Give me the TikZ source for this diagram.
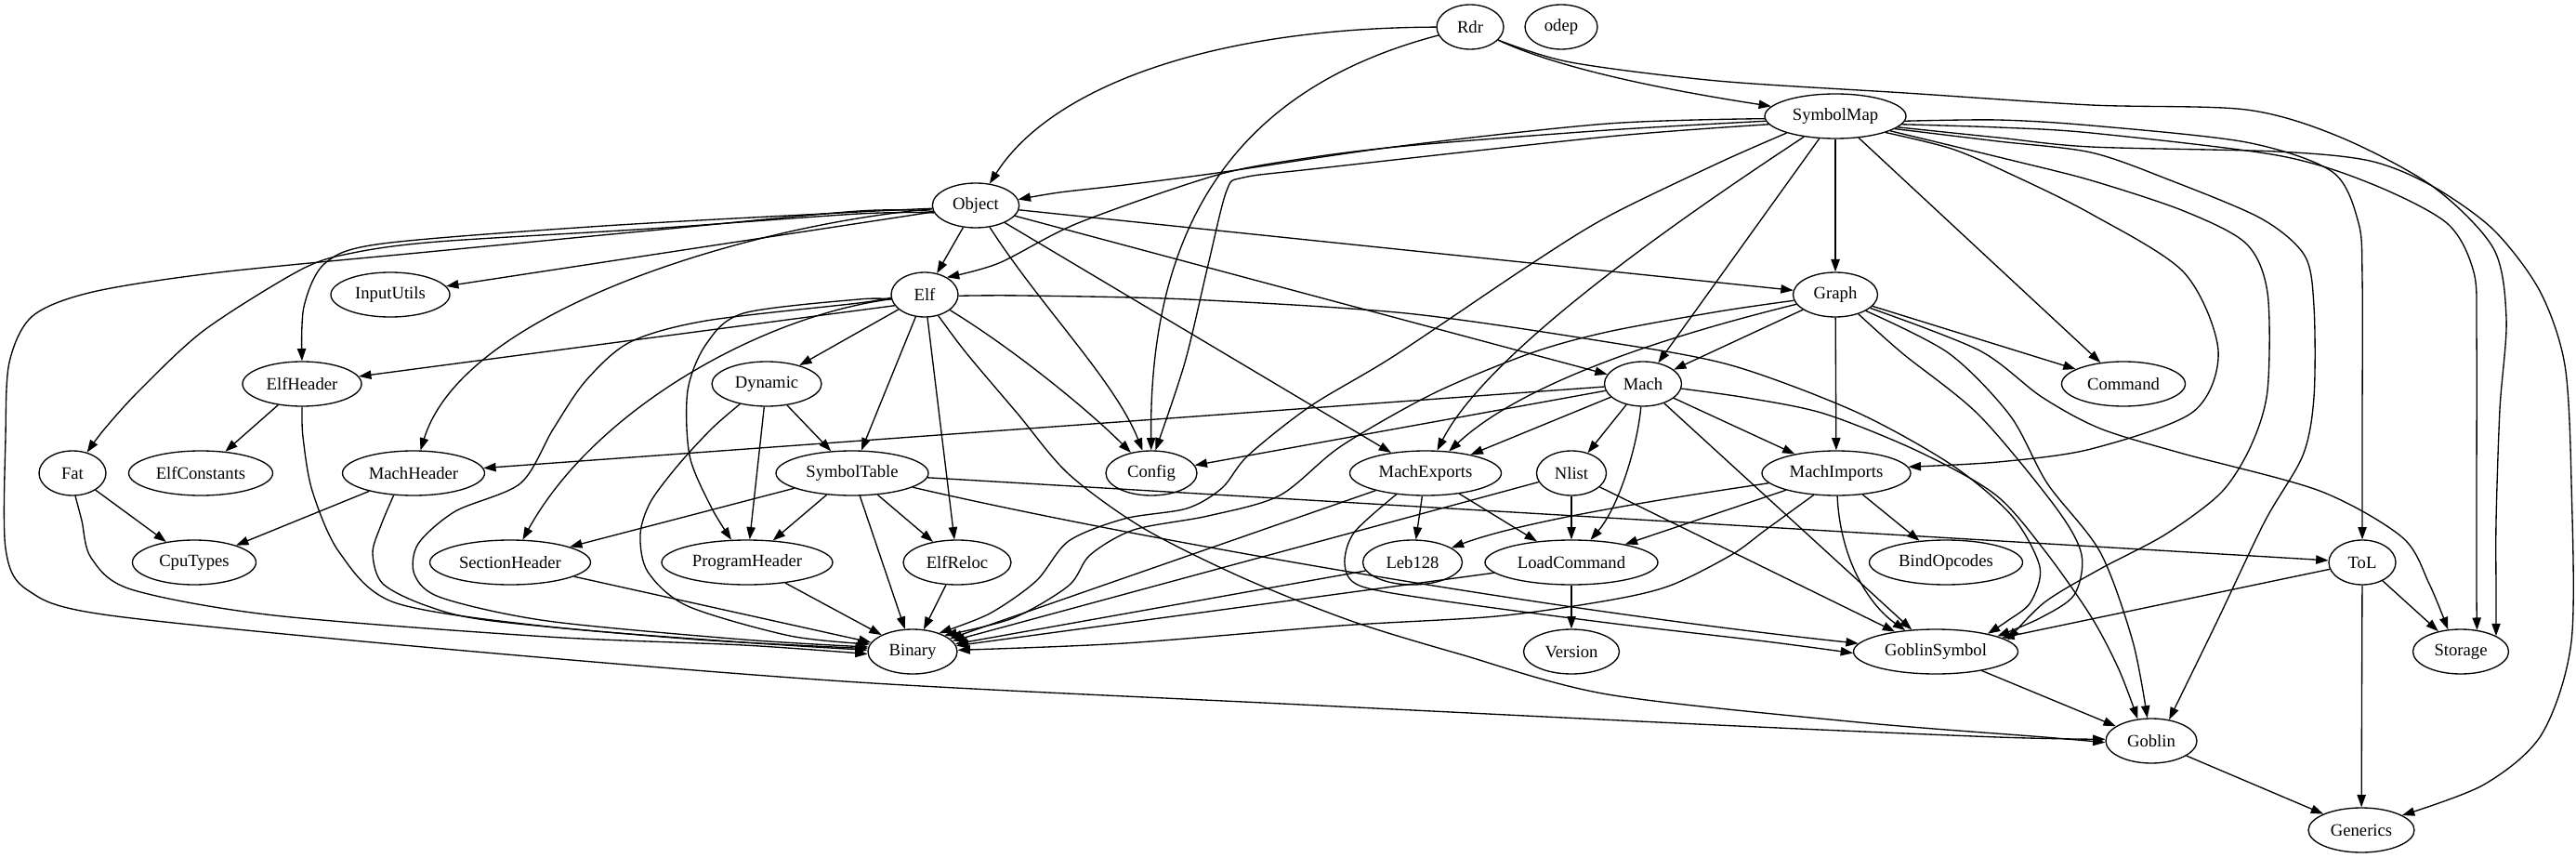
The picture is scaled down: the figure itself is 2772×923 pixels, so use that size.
\documentclass[tikz,border=0pt]{standalone}
\usepackage{fontspec}
\setmainfont{Liberation Serif}
\usetikzlibrary{shapes.geometric,arrows.meta}
\begin{document}
\begin{tikzpicture}[x=0.75pt,y=-0.75pt,
  nd/.style={ellipse,draw,line width=1pt,minimum height=36pt,inner sep=0pt,font=\fontsize{14}{16}\selectfont},
  edge/.style={-{Triangle[length=10pt,width=7pt]},line width=1pt}]
\useasboundingbox (0,0) rectangle (2772,923);
% nodes
\node[nd,minimum width=54pt] (Rdr) at (1582,29) {Rdr};
\node[nd,minimum width=58.5pt] (odep) at (1680,29) {odep};
\node[nd,minimum width=114pt] (SymbolMap) at (1975,125) {SymbolMap};
\node[nd,minimum width=70pt] (Object) at (1050,221) {Object};
\node[nd,minimum width=96pt] (InputUtils) at (420,317) {InputUtils};
\node[nd,minimum width=54pt] (Elf) at (995,317) {Elf};
\node[nd,minimum width=68.25pt] (Graph) at (1975,317) {Graph};
\node[nd,minimum width=96pt] (ElfHeader) at (325,413) {ElfHeader};
\node[nd,minimum width=88.5pt] (Dynamic) at (825,413) {Dynamic};
\node[nd,minimum width=62.25pt] (Mach) at (1768,413) {Mach};
\node[nd,minimum width=99.75pt] (Command) at (2285,413) {Command};
\node[nd,minimum width=54pt] (Fat) at (78,509) {Fat};
\node[nd,minimum width=116.25pt] (ElfConstants) at (216,509) {ElfConstants};
\node[nd,minimum width=114.75pt] (MachHeader) at (445,509) {MachHeader};
\node[nd,minimum width=123pt] (SymbolTable) at (917,509) {SymbolTable};
\node[nd,minimum width=73.5pt] (Config) at (1239,509) {Config};
\node[nd,minimum width=122.25pt] (MachExports) at (1534,509) {MachExports};
\node[nd,minimum width=56.25pt] (Nlist) at (1691,509) {Nlist};
\node[nd,minimum width=120pt] (MachImports) at (1976,509) {MachImports};
\node[nd,minimum width=99.75pt] (CpuTypes) at (209,605) {CpuTypes};
\node[nd,minimum width=129.75pt] (SectionHeader) at (549,605) {SectionHeader};
\node[nd,minimum width=138pt] (ProgramHeader) at (804,605) {ProgramHeader};
\node[nd,minimum width=87pt] (ElfReloc) at (1030,605) {ElfReloc};
\node[nd,minimum width=80.25pt] (Leb128) at (1520,605) {Leb128};
\node[nd,minimum width=139.5pt] (LoadCommand) at (1691,605) {LoadCommand};
\node[nd,minimum width=123.75pt] (BindOpcodes) at (2094,605) {BindOpcodes};
\node[nd,minimum width=54pt] (ToL) at (2542,605) {ToL};
\node[nd,minimum width=72pt] (Binary) at (982,701) {Binary};
\node[nd,minimum width=77.25pt] (Version) at (1691,701) {Version};
\node[nd,minimum width=132.75pt] (GoblinSymbol) at (2083,701) {GoblinSymbol};
\node[nd,minimum width=77.25pt] (Storage) at (2648,701) {Storage};
\node[nd,minimum width=73.5pt] (Goblin) at (2315,797) {Goblin};
\node[nd,minimum width=85.5pt] (Generics) at (2541,893) {Generics};
% Rdr
\draw[edge] (Rdr) .. controls (1300,30) and (1130,95) .. (Object);
\draw[edge] (Rdr) .. controls (1350,90) and (1236,220) .. (Config);
\draw[edge] (Rdr) .. controls (1680,75) and (1800,98) .. (SymbolMap);
\draw[edge] plot[smooth] coordinates {(Rdr.-25) (1690,67) (1848,87) (2050,100) (2250,113) (2417,118) (2517,147) (2617,200) (2683,267) (2697,343) (2690,440) (2686,560) (2686,640) (Storage.24)};
% SymbolMap
\draw[edge] plot[smooth] coordinates {(SymbolMap.-178) (1730,133) (1500,158) (1310,186) (1210,199) (1140,207) (Object.8)};
\draw[edge] plot[smooth] coordinates {(SymbolMap.-176) (1730,140) (1513,157) (1400,171) (1307,189) (1160,240) (1075,283) (Elf.38)};
\draw[edge] plot[smooth] coordinates {(SymbolMap.-173) (1730,147) (1420,181) (1338,191) (1320,205) (1300,285) (1275,390) (Config.80)};
\draw[edge] plot[smooth] coordinates {(SymbolMap.-161) (1850,175) (1730,233) (1643,287) (1500,383) (1410,437) (1343,490) (1315,525) (1277,547) (1210,558) (1150,582) (1115,625) (1065,660) (Binary.35)};
\draw[edge] (SymbolMap) .. controls (1800,240) and (1600,380) .. (MachExports);
\draw[edge] (SymbolMap) -- (Mach);
\draw[edge] (SymbolMap) -- (Graph);
\draw[edge] (SymbolMap) -- (Command);
\draw[edge] plot[smooth] coordinates {(SymbolMap.-18) (2100,160) (2163,187) (2250,230) (2350,293) (2387,377) (2360,443) (2250,483) (2150,497) (MachImports.5)};
\draw[edge] plot[smooth] coordinates {(SymbolMap.-15) (2163,172) (2250,194) (2350,227) (2417,262) (2440,315) (2440,420) (2422,480) (2390,530) (2330,575) (2260,612) (2200,648) (GoblinSymbol.9)};
\draw[edge] plot[smooth] coordinates {(SymbolMap.-12) (2150,152) (2250,164) (2333,193) (2433,235) (2480,275) (2490,330) (2490,427) (2478,490) (2437,561) (2385,670) (Goblin.50)};
\draw[edge] plot[smooth] coordinates {(SymbolMap.-4) (2150,129) (2250,135) (2417,153) (2510,185) (2538,240) (2542,300) (2542,450) (ToL.north)};
\draw[edge] plot[smooth] coordinates {(SymbolMap.-7) (2150,137) (2250,143) (2450,167) (2550,197) (2633,240) (2662,293) (2665,360) (2665,520) (2665,640) (Storage.53)};
\draw[edge] plot[smooth] coordinates {(SymbolMap.-10) (2150,148) (2250,158) (2450,163) (2550,173) (2617,200) (2683,247) (2733,313) (2760,393) (2767,520) (2767,690) (2735,790) (2673,844) (Generics.20)};
% Object
\draw[edge] plot[smooth] coordinates {(Object.-172) (924,227) (700,248) (471,270) (236,293) (100,314) (35,340) (10,390) (6,470) (6,590) (30,635) (118,662) (500,700) (924,734) (1400,758) (1848,780) (2150,793) (Goblin.178)};
\draw[edge] plot[smooth] coordinates {(Object.-176) (924,228) (650,243) (412,262) (350,283) (327,330) (ElfHeader.north)};
\draw[edge] plot[smooth] coordinates {(Object.-170) (924,230) (700,246) (471,260) (380,272) (324,290) (220,355) (150,420) (112,462) (Fat.55)};
\draw[edge] (Object) -- (InputUtils);
\draw[edge] (Object) .. controls (820,240) and (500,330) .. (MachHeader);
\draw[edge] (Object) -- (Elf);
\draw[edge] (Object) .. controls (1120,330) and (1200,410) .. (Config);
\draw[edge] (Object) -- (MachExports);
\draw[edge] (Object) -- (Mach);
\draw[edge] (Object) -- (Graph);
% Elf
\draw[edge] (Elf.-160) -- (ElfHeader);
\draw[edge] plot[smooth] coordinates {(Elf.-172) (924,322) (800,337) (760,370) (740,420) (742,490) (765,545) (ProgramHeader.125)};
\draw[edge] plot[smooth] coordinates {(Elf.-175) (924,326) (760,345) (678,368) (630,410) (595,462) (560,520) (490,550) (450,585) (446,618) (475,643) (589,668) (800,688) (Binary.174)};
\draw[edge] (Elf) .. controls (820,340) and (640,440) .. (SectionHeader);
\draw[edge] (Elf) -- (Dynamic);
\draw[edge] (Elf) -- (SymbolTable);
\draw[edge] (Elf) -- (ElfReloc);
\draw[edge] (Elf) .. controls (1090,375) and (1170,440) .. (Config);
\draw[edge] plot[smooth] coordinates {(Elf.-57) (1040,380) (1095,445) (1150,510) (1230,568) (1336,621) (1454,668) (1572,704) (1730,747) (2000,777) (2200,793) (Goblin.182)};
\draw[edge] plot[smooth] coordinates {(Elf.-2) (1100,318) (1278,322) (1513,337) (1730,368) (1863,393) (1997,443) (2100,500) (2165,555) (2195,610) (2185,648) (2160,668) (GoblinSymbol.19)};
% Mach
\draw[edge] (Mach) -- (MachHeader);
\draw[edge] (Mach) -- (Config);
\draw[edge] (Mach) -- (MachExports);
\draw[edge] (Mach) -- (Nlist);
\draw[edge] (Mach) .. controls (1762,480) and (1742,545) .. (LoadCommand);
\draw[edge] (Mach) -- (MachImports);
\draw[edge] (Mach) -- (GoblinSymbol);
\draw[edge] plot[smooth] coordinates {(Mach.-7) (1880,428) (1963,445) (2063,485) (2147,532) (2200,592) (2250,663) (2280,720) (Goblin.122)};
% Graph
\draw[edge] (Graph) -- (Mach);
\draw[edge] (Graph) .. controls (1800,360) and (1640,410) .. (MachExports);
\draw[edge] plot[smooth] coordinates {(Graph.-172) (1850,335) (1730,357) (1647,380) (1543,423) (1443,480) (1377,533) (1300,555) (1220,570) (1173,597) (1150,630) (1090,665) (Binary.27)};
\draw[edge] (Graph) -- (MachImports);
\draw[edge] (Graph) -- (Command);
\draw[edge] plot[smooth] coordinates {(Graph.-21) (2130,377) (2197,427) (2260,461) (2349,488) (2496,528) (2585,578) (2614,628) (Storage.120)};
\draw[edge] plot[smooth] coordinates {(Graph.-40) (2047,380) (2130,447) (2213,547) (2240,597) (2232,640) (2195,665) (GoblinSymbol.14)};
\draw[edge] plot[smooth] coordinates {(Graph.-28) (2097,380) (2163,447) (2203,520) (2260,594) (2295,690) (Goblin.100)};
% MachExports
\draw[edge] (MachExports) -- (Leb128);
\draw[edge] (MachExports) -- (LoadCommand);
\draw[edge] (MachExports) -- (Binary);
\draw[edge] plot[smooth] coordinates {(MachExports.-144) (1457,573) (1447,607) (1463,630) (1543,645) (1730,670) (1900,690) (GoblinSymbol.181)};
% Nlist
\draw[edge] (Nlist) -- (LoadCommand);
\draw[edge] (Nlist) -- (Binary);
\draw[edge] (Nlist) -- (GoblinSymbol);
% MachImports
\draw[edge] (MachImports) .. controls (1800,535) and (1640,560) .. (Leb128);
\draw[edge] (MachImports) -- (LoadCommand);
\draw[edge] (MachImports) -- (BindOpcodes);
\draw[edge] (MachImports) .. controls (1980,600) and (2010,650) .. (GoblinSymbol);
\draw[edge] plot[smooth] coordinates {(MachImports.-136) (1900,570) (1863,597) (1797,630) (1730,646) (1610,663) (1443,673) (1210,692) (Binary.2)};
% SymbolTable
\draw[edge] (SymbolTable) -- (SectionHeader);
\draw[edge] (SymbolTable) -- (ProgramHeader);
\draw[edge] (SymbolTable) -- (ElfReloc);
\draw[edge] (SymbolTable) -- (Binary);
\draw[edge] (SymbolTable) .. controls (1200,575) and (1650,655) .. (GoblinSymbol);
\draw[edge] (SymbolTable) -- (ToL);
% Dynamic
\draw[edge] (Dynamic) -- (SymbolTable);
\draw[edge] (Dynamic) -- (ProgramHeader);
\draw[edge] plot[smooth] coordinates {(Dynamic.-143) (766,461) (730,500) (700,540) (689,575) (697,615) (740,652) (850,684) (Binary.170)};
% ElfHeader, Fat, MachHeader
\draw[edge] (ElfHeader) -- (ElfConstants);
\draw[edge] plot[smooth] coordinates {(ElfHeader.south) (326,470) (336,528) (365,594) (424,648) (589,674) (800,691) (Binary.178)};
\draw[edge] (Fat) -- (CpuTypes);
\draw[edge] plot[smooth] coordinates {(Fat.-83) (88,560) (98,600) (141,634) (295,662) (589,685) (800,694) (Binary.183)};
\draw[edge] (MachHeader) -- (CpuTypes);
\draw[edge] plot[smooth] coordinates {(MachHeader.-132) (410,565) (401,595) (412,628) (460,652) (530,668) (750,688) (Binary.176)};
% others
\draw[edge] (SectionHeader) -- (Binary);
\draw[edge] (ProgramHeader) -- (Binary);
\draw[edge] (ElfReloc) -- (Binary);
\draw[edge] (Leb128) -- (Binary);
\draw[edge] (LoadCommand) -- (Binary);
\draw[edge] (LoadCommand) -- (Version);
\draw[edge] (ToL) -- (GoblinSymbol);
\draw[edge] (ToL) -- (Storage);
\draw[edge] (ToL) -- (Generics);
\draw[edge] (GoblinSymbol) -- (Goblin);
\draw[edge] (Goblin) -- (Generics);
\end{tikzpicture}
\end{document}
